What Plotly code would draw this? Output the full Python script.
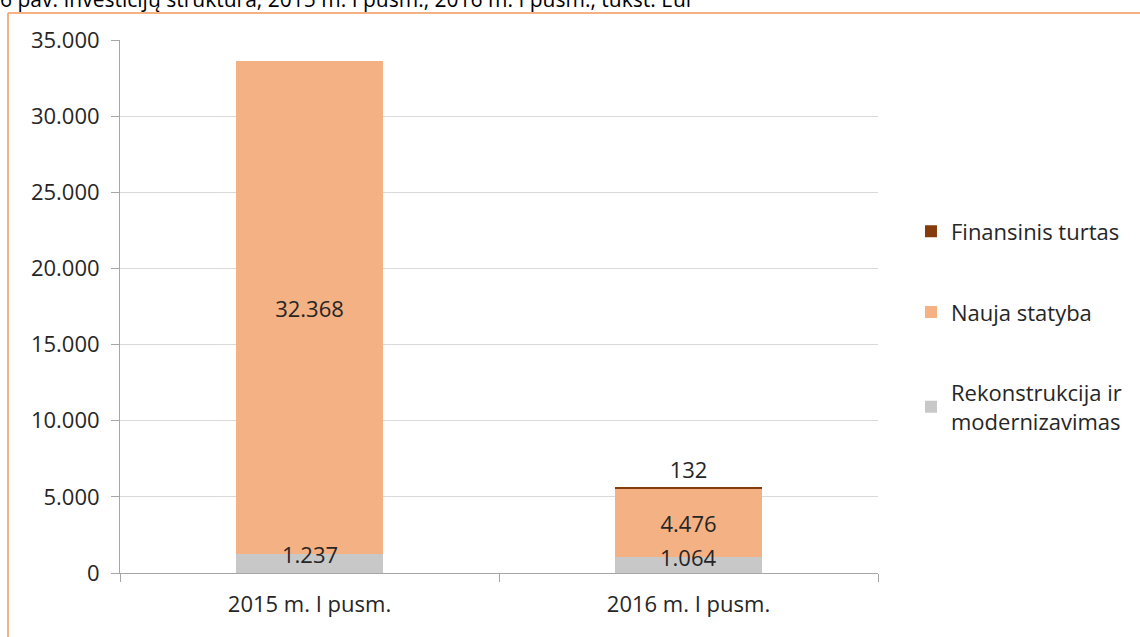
import plotly.graph_objects as go

categories = ["2015 m. I pusm.", "2016 m. I pusm."]
rekonstrukcija = [1237, 1064]
nauja_statyba = [32368, 4476]
finansinis = [0, 132]

series_names = ["Rekonstrukcija ir<br>modernizavimas", "Nauja statyba", "Finansinis turtas"]
y_ticks = [0, 5000, 10000, 15000, 20000, 25000, 30000, 35000]
y_tick_text = ["0", "5.000", "10.000", "15.000", "20.000", "25.000", "30.000", "35.000"]


def fmt(v):
    return f"{v:,}".replace(",", ".") if v else ""


W, H = 1140, 637
L, R, T, B = 120, 262, 40, 64
pw, ph = W - L - R, H - T - B

font = "'Open Sans', sans-serif"
txt = "#262626"
fs = 22

fig = go.Figure()
fig.add_trace(go.Bar(
    x=categories, y=rekonstrukcija, name=series_names[0],
    marker_color="#c8c8c8", legendgroup="a", legendrank=3))
fig.add_trace(go.Bar(
    x=categories, y=nauja_statyba, name=series_names[1],
    marker_color="#f4b183", text=[fmt(v) for v in nauja_statyba],
    textposition="inside", insidetextanchor="middle", constraintext="none",
    textfont=dict(size=fs, color=txt), legendgroup="b", legendrank=2))
fig.add_trace(go.Bar(
    x=categories, y=finansinis, name=series_names[2],
    marker_color="#843c0c", text=[fmt(v) for v in finansinis],
    textposition="outside", constraintext="none", cliponaxis=False,
    textfont=dict(size=fs, color=txt), legendgroup="c", legendrank=1))

fig.update_traces(marker_line_width=0)

# labels of the grey segments sit on the segment's top edge
annotations = [dict(x=c, y=v, text=fmt(v), showarrow=False, yanchor="middle",
                    font=dict(size=fs, color=txt))
               for c, v in zip(categories, rekonstrukcija)]

annotations.append(dict(
    text="6 pav. Investicijų struktūra, 2015 m. I pusm., 2016 m. I pusm., tūkst. Eur",
    xref="paper", yref="paper", x=(-2 - L) / pw, y=(H - B + 1) / ph,
    xanchor="left", yanchor="middle", showarrow=False,
    font=dict(size=21, color="#000000")))

# orange frame around the chart area
x_left = (8 - L) / pw
y_top = (H - B - 13) / ph
x_right = (W + 5 - L) / pw
y_bot = (H - B - H - 5) / ph
frame = dict(color="#f4b183", width=2)
shapes = [
    dict(type="line", xref="paper", yref="paper", x0=x_left, x1=x_left, y0=y_bot, y1=y_top, line=frame),
    dict(type="line", xref="paper", yref="paper", x0=x_left, x1=x_right, y0=y_top, y1=y_top, line=frame),
]

fig.update_layout(
    width=W, height=H,
    margin=dict(l=L, r=R, t=T, b=B),
    barmode="stack", bargap=0.61,
    plot_bgcolor="white", paper_bgcolor="white",
    font=dict(family=font, size=fs, color=txt),
    shapes=shapes,
    annotations=annotations,
    legend=dict(x=1.0435, y=0.68, xanchor="left", yanchor="top",
                traceorder="grouped", tracegroupgap=49,
                font=dict(size=fs, color=txt), itemwidth=30),
)
fig.update_yaxes(
    range=[0, 35000], tickvals=y_ticks, ticktext=y_tick_text,
    showgrid=True, gridcolor="#d9d9d9", gridwidth=1,
    showline=True, linecolor="#a6a6a6", linewidth=1,
    ticks="outside", tickcolor="#a6a6a6", ticklen=8, ticklabelstandoff=7,
    zeroline=False)
fig.update_xaxes(
    showline=True, linecolor="#a6a6a6", linewidth=1,
    ticks="outside", tickson="boundaries", tickcolor="#a6a6a6", ticklen=8,
    ticklabelstandoff=12)

fig.write_html("out.html", config={"displayModeBar": False},
               post_script="document.body.style.margin='0';")
